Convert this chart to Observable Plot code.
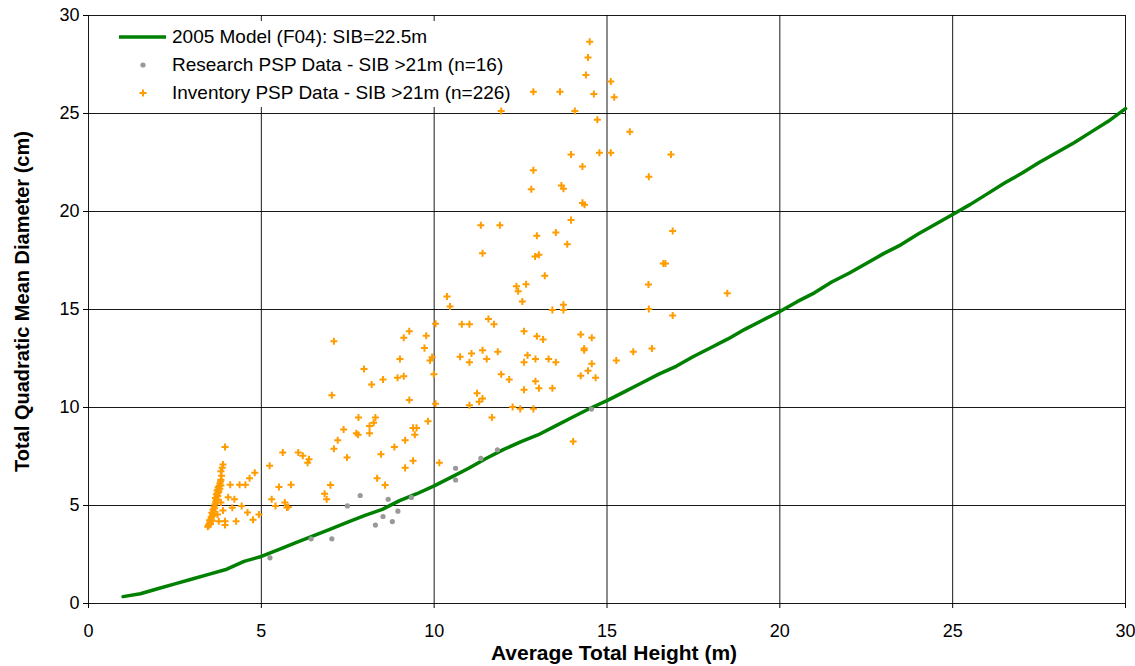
<!DOCTYPE html>
<html>
<head>
<meta charset="utf-8">
<script src="https://cdn.jsdelivr.net/npm/d3@7"></script>
<script src="https://cdn.jsdelivr.net/npm/@observablehq/plot@0.6"></script>
<style>
  body { margin: 0; background: #fff; }
  #wrap { position: relative; width: 1135px; height: 666px; font-family: "Liberation Sans", Arial, sans-serif; }
  #legend { position: absolute; left: 106px; top: 21px; width: 420px; height: 86px; background: #fff; font-size: 19px; color: #000; }
  .row { position: absolute; left: 0; height: 28px; display: flex; align-items: center; white-space: nowrap; }
  .row svg { width: 60px; height: 28px; flex: none; }
  .row span { margin-left: 6px; }
</style>
</head>
<body>
<div id="wrap">
  <div id="chart"></div>
  <div id="legend"></div>
</div>
<script>
// ---- Data ----
const xTicks = [0, 5, 10, 15, 20, 25, 30];
const yTicks = [0, 5, 10, 15, 20, 25, 30];

const seriesNames = [
  "2005 Model (F04): SIB=22.5m",
  "Research PSP Data - SIB >21m (n=16)",
  "Inventory PSP Data - SIB >21m (n=226)"
];

// 2005 model curve: average total height (m) vs QMD (cm)
const modelH = [1, 1.5, 2, 2.5, 3, 3.5, 4, 4.5, 5, 5.5, 6, 6.5, 7, 7.5, 8, 8.5, 9, 9.5, 10, 10.5, 11, 11.5, 12, 12.5, 13, 13.5, 14, 14.5, 15, 15.5, 16, 16.5, 17, 17.5, 18, 18.5, 19, 19.5, 20, 20.5, 21, 21.5, 22, 22.5, 23, 23.5, 24, 24.5, 25, 25.5, 26, 26.5, 27, 27.5, 28, 28.5, 29, 29.5, 30];
const modelD = [0.35, 0.5, 0.75, 1.0, 1.25, 1.5, 1.75, 2.15, 2.4, 2.75, 3.1, 3.45, 3.8, 4.15, 4.5, 4.8, 5.25, 5.6, 6.0, 6.45, 6.9, 7.4, 7.85, 8.25, 8.6, 9.05, 9.5, 9.95, 10.35, 10.8, 11.25, 11.7, 12.1, 12.6, 13.05, 13.5, 14.0, 14.45, 14.9, 15.4, 15.85, 16.4, 16.85, 17.35, 17.85, 18.3, 18.85, 19.35, 19.85, 20.35, 20.9, 21.45, 21.95, 22.5, 23.0, 23.5, 24.05, 24.6, 25.25];

// Research PSP plots
const resH = [7.86, 7.49, 8.67, 9.34, 8.95, 8.52, 8.79, 8.30, 6.44, 7.04, 5.25, 10.62, 10.62, 11.35, 11.83, 14.55];
const resD = [5.51, 4.98, 5.32, 5.41, 4.71, 4.44, 4.18, 4.00, 3.30, 3.30, 2.33, 6.90, 6.30, 7.40, 7.84, 9.92];

// Inventory PSP plots
const invH = [3.95, 3.89, 3.83, 3.83, 3.83, 4.10, 4.37, 4.54, 4.66, 4.81, 4.04, 4.22, 4.43, 4.16, 3.89, 4.60, 4.93, 3.73, 4.76, 4.27, 3.95, 3.95, 3.77, 5.24, 5.62, 6.07, 6.20, 5.51, 5.86, 5.30, 5.68, 5.41, 5.74, 5.78, 3.71, 3.83, 3.74, 3.77, 3.80,
  3.45, 3.48, 3.50, 3.52, 3.50, 3.55, 3.55, 3.58, 3.60, 3.57, 3.62, 3.60, 3.65, 3.63, 3.66, 3.68, 3.69, 3.67, 3.72, 3.70, 3.74, 3.72, 3.76, 3.75, 3.78, 3.80, 3.82, 3.85, 3.87, 3.53, 3.58, 3.64, 3.47,
  10.46, 10.04, 9.28, 9.12, 9.77, 7.10, 9.72, 9.94, 9.88, 9.01, 7.97, 9.99, 8.52, 8.94, 9.12, 8.19, 9.28, 7.04, 10.04, 7.81, 8.30, 8.13, 8.25, 9.82, 7.38, 9.39, 9.49, 7.75, 7.80, 8.13, 9.44, 7.21, 9.16, 8.85, 7.10, 6.38, 6.34, 7.48, 8.46, 9.39, 10.15, 9.16, 7.00, 8.35, 8.58, 6.83, 6.89,
  14.29, 14.35, 13.96, 11.35, 11.90, 13.52, 12.97, 13.85, 11.40, 12.92, 13.03, 13.20, 12.38, 12.43, 12.66, 10.37, 12.55, 13.74, 13.74, 13.42, 11.57, 11.73, 10.80, 11.02, 12.60, 12.97, 13.15, 14.24, 14.56, 11.40, 11.84, 14.34, 14.34, 11.08, 10.75, 11.02, 11.52, 12.70, 12.60, 12.93, 13.31, 13.52, 14.56, 14.45, 14.24, 14.67, 11.94, 12.17, 12.93, 12.60, 13.03, 13.42, 11.24, 11.40, 11.30, 11.02, 12.27, 12.49, 12.87, 11.67, 14.02,
  14.50, 14.45, 14.39, 15.11, 14.62, 15.21, 12.87, 13.64, 11.94, 14.07, 14.72, 15.66, 14.78, 15.11, 16.85, 13.96, 14.29, 12.87, 16.21, 12.81, 13.68, 13.74, 16.90, 16.63, 16.69, 16.20, 18.48,
  16.21, 16.90, 15.76, 16.30, 15.27];
const invD = [7.98, 7.09, 6.75, 6.31, 6.02, 6.06, 6.06, 6.06, 6.39, 6.67, 5.42, 5.32, 4.98, 4.88, 4.74, 4.64, 4.54, 4.54, 4.27, 4.20, 4.20, 4.00, 4.20, 7.03, 7.70, 7.70, 7.54, 5.94, 6.06, 5.32, 5.15, 4.98, 4.90, 4.92, 5.32, 5.15, 5.50, 5.70, 5.85,
  3.92, 4.00, 4.08, 4.15, 4.25, 4.32, 4.40, 4.48, 4.56, 4.63, 4.70, 4.80, 4.86, 4.95, 5.05, 5.14, 5.24, 5.38, 5.46, 5.58, 5.64, 5.76, 5.80, 5.92, 6.00, 6.12, 6.22, 6.52, 6.92, 4.05, 4.22, 4.58, 3.98,
  15.15, 14.27, 13.89, 13.56, 13.66, 13.38, 13.03, 12.57, 12.40, 12.48, 11.97, 11.70, 11.43, 11.52, 11.60, 11.17, 10.38, 10.63, 10.19, 9.49, 9.49, 9.05, 9.22, 9.30, 8.88, 8.96, 8.96, 8.69, 8.61, 8.69, 8.61, 8.33, 8.33, 7.98, 7.89, 7.36, 7.18, 7.45, 7.62, 7.28, 7.18, 6.92, 6.04, 6.39, 6.04, 5.60, 5.32,
  20.44, 20.34, 19.56, 19.30, 19.30, 18.93, 18.76, 18.33, 17.87, 17.70, 17.79, 16.72, 16.19, 15.93, 16.29, 15.66, 15.41, 15.24, 14.97, 14.97, 14.52, 14.25, 14.25, 14.25, 13.89, 13.64, 13.47, 13.72, 13.56, 12.92, 12.84, 13.01, 12.92, 12.76, 12.59, 12.31, 12.48, 12.67, 12.31, 12.48, 12.48, 12.31, 12.23, 11.87, 11.62, 11.52, 11.70, 11.43, 11.34, 10.90, 10.98, 10.98, 10.73, 10.46, 10.29, 10.12, 10.02, 9.93, 9.93, 9.49, 8.27,
  28.66, 27.86, 26.97, 26.63, 26.00, 25.83, 26.11, 26.11, 25.13, 25.13, 24.68, 24.07, 23.00, 23.00, 22.91, 22.91, 22.30, 22.11, 21.77, 21.14, 21.33, 21.16, 19.01, 17.35, 17.35, 16.28, 15.83,
  15.03, 14.69, 12.84, 13.01, 12.40];

const xTitle = "Average Total Height (m)";
const yTitle = "Total Quadratic Mean Diameter (cm)";

// ---- Build tables ----
const model = modelH.map((h, i) => ({h, d: modelD[i]}));
const research = resH.map((h, i) => ({h, d: resD[i]}));
const inventory = invH.map((h, i) => ({h, d: invD[i]}));

const green = "#008000", grey = "#999999", orange = "#FF9C00";
const font = "'Liberation Sans', Arial, sans-serif";

const chart = Plot.plot({
  width: 1135,
  height: 666,
  marginLeft: 88,
  marginRight: 10,
  marginTop: 15,
  marginBottom: 63,
  style: {fontFamily: font, background: "#fff", color: "#000", overflow: "visible"},
  x: {domain: [0, 30], label: null},
  y: {domain: [0, 30], label: null},
  marks: [
    Plot.gridX(xTicks, {stroke: "#000", strokeOpacity: 0.9, strokeWidth: 1}),
    Plot.gridY(yTicks, {stroke: "#000", strokeOpacity: 0.9, strokeWidth: 1}),
    Plot.axisX(xTicks, {tickSize: 5, tickPadding: 16, fontSize: 18, label: null, stroke: "#000"}),
    Plot.axisY(yTicks, {tickSize: 5, tickPadding: 4, fontSize: 18, label: null, stroke: "#000"}),
    Plot.line(model, {x: "h", y: "d", stroke: green, strokeWidth: 3.5, curve: "linear"}),
    Plot.dot(research, {x: "h", y: "d", r: 2.6, fill: grey, stroke: null}),
    Plot.dot(inventory, {x: "h", y: "d", symbol: "plus", r: 2.4, stroke: orange, strokeWidth: 2}),
    Plot.text([xTitle], {frameAnchor: "bottom", dx: 7, dy: 56, fontSize: 21, fontWeight: "bold", fill: "#000"}),
    Plot.text([yTitle], {frameAnchor: "left", textAnchor: "middle", dx: -66, dy: -8, rotate: -90, fontSize: 20, fontWeight: "bold", fill: "#000"})
  ]
});
document.getElementById("chart").appendChild(chart);

// ---- Legend (inside plot, top-left, white box) ----
const legend = document.getElementById("legend");
const swatches = [
  `<svg viewBox="0 0 60 28"><line x1="13" x2="60" y1="14" y2="14" stroke="${green}" stroke-width="3.5"/></svg>`,
  `<svg viewBox="0 0 60 28"><circle cx="37" cy="14" r="2.6" fill="${grey}"/></svg>`,
  `<svg viewBox="0 0 60 28"><path d="M33.5,14H40.5M37,10.5V17.5" stroke="${orange}" stroke-width="2"/></svg>`
];
seriesNames.forEach((name, i) => {
  const row = document.createElement("div");
  row.className = "row";
  row.style.top = (2 + i * 28) + "px";
  row.innerHTML = swatches[i] + `<span>${name}</span>`;
  legend.appendChild(row);
});
</script>
</body>
</html>
